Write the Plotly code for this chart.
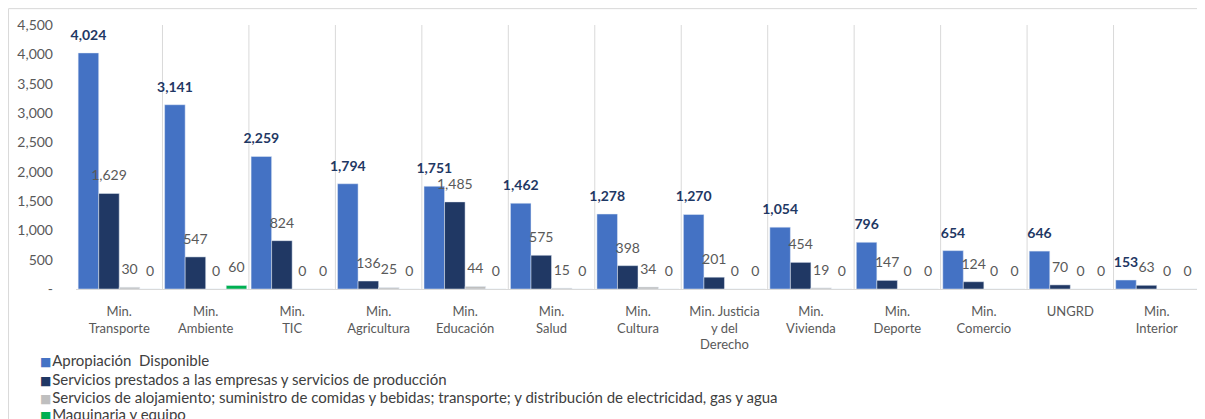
import plotly.graph_objects as go

# categories (entities)
entidades = ['Min.<br>Transporte', 'Min.<br>Ambiente', 'Min.<br>TIC', 'Min.<br>Agricultura',
             'Min.<br>Educación', 'Min.<br>Salud', 'Min.<br>Cultura', 'Min. Justicia<br>y del<br>Derecho',
             'Min.<br>Vivienda', 'Min.<br>Deporte', 'Min.<br>Comercio', 'UNGRD', 'Min.<br>Interior']

apropiacion = [4024, 3141, 2259, 1794, 1751, 1462, 1278, 1270, 1054, 796, 654, 646, 153]
servicios_prestados = [1629, 547, 824, 136, 1485, 575, 398, 201, 454, 147, 124, 70, 63]
alojamiento = [30, 0, 0, 25, 44, 15, 34, 0, 19, 0, 0, 0, 0]
maquinaria = [0, 60, 0, 0, 0, 0, 0, 0, 0, 0, 0, 0, 0]

y_ticks = [0, 500, 1000, 1500, 2000, 2500, 3000, 3500, 4000, 4500]
y_ticktext = ['-', '500', '1,000', '1,500', '2,000', '2,500', '3,000', '3,500', '4,000', '4,500']

FONT = 'Lato'
GRAY_TXT = '#595959'

fig = go.Figure()

series = [
    ('Apropiación  Disponible', apropiacion, '#4472C4', True),
    ('Servicios prestados a las empresas y servicios de producción', servicios_prestados, '#203864', False),
    ('Servicios de alojamiento; suministro de comidas y bebidas; transporte; y distribución de electricidad, gas y agua',
     alojamiento, '#BFBFBF', False),
    ('Maquinaria y equipo', maquinaria, '#00B050', False),
]

for name, vals, color, bold in series:
    fig.add_trace(go.Bar(
        x=entidades, y=vals, name=name, marker_color=color,
        # small-font second line lifts the label a bit above the bar, like the original
        texttemplate="<span style='font-size:14px'>%{y:,}</span><br> ",
        textposition='outside', constraintext='none', cliponaxis=False,
        textfont=dict(family=FONT, size=7,
                      color='#1F3864' if bold else GRAY_TXT,
                      weight='bold' if bold else 'normal'),
        hoverinfo='skip', showlegend=False,
    ))

# vertical dividers between categories
for i in range(1, len(entidades)):
    fig.add_shape(type='line', xref='x', yref='y', x0=i - 0.5, x1=i - 0.5, y0=0, y1=4500,
                  line=dict(color='#D9D9D9', width=1), layer='below')

# outer frame of the original chart (partially visible)
fig.add_shape(type='line', xref='paper', yref='paper', x0=-0.06, x1=1.01, y0=1.062, y1=1.062,
              line=dict(color='#D9D9D9', width=1))
fig.add_shape(type='line', xref='paper', yref='paper', x0=-0.06, x1=-0.06, y0=1.062, y1=-0.6,
              line=dict(color='#D9D9D9', width=1))

# legend drawn as text lines with coloured squares
leg_y = [-0.269, -0.341, -0.409, -0.473]
for (name, vals, color, bold), yy in zip(series, leg_y):
    fig.add_annotation(xref='paper', yref='paper', x=-0.034, y=yy, xanchor='left', yanchor='middle',
                       showarrow=False,
                       text=(f"<span style='color:{color};font-family:DejaVu Sans;font-size:12px'>■</span>"
                             f"<span style='font-size:3px'> </span>{name}"),
                       font=dict(family=FONT, size=15, color='#404040'))

# page body adds an 8px offset, so the figure is sized to the visible area
fig.update_layout(
    width=1197, height=411,
    margin=dict(l=68, r=5, t=17, b=130, autoexpand=False),
    paper_bgcolor='white', plot_bgcolor='white',
    barmode='group', bargap=0.05, bargroupgap=0,
    font=dict(family=FONT, size=13, color=GRAY_TXT),
    showlegend=False,
    xaxis=dict(type='category', range=[-0.5, len(entidades) - 0.5], showgrid=False,
               showline=True, linecolor='#D9D9D9', ticks='', ticklabelstandoff=10,
               tickfont=dict(size=13, color=GRAY_TXT)),
    yaxis=dict(range=[0, 4500], tickvals=y_ticks, ticktext=y_ticktext, showgrid=False,
               zeroline=False, showline=False, ticklabelstandoff=22,
               tickfont=dict(size=14, color=GRAY_TXT)),
)

fig.write_html("out.html")
